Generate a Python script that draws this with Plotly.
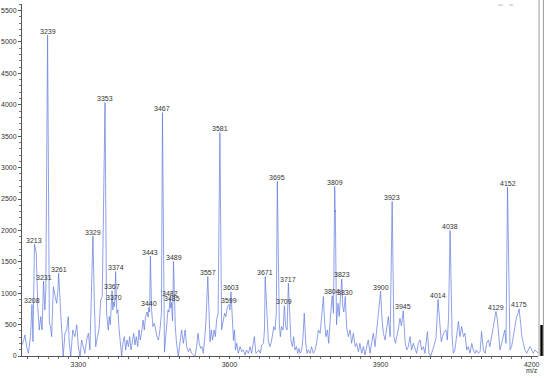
import plotly.graph_objects as go

# ---- spectrum trace (m/z, intensity) ----
mz = [3188, 3191, 3194, 3197.5, 3201, 3203, 3205, 3208, 3210, 3213, 3216.5, 3219.5, 3222.5, 3225.5,
      3228, 3231, 3233.5, 3235.5, 3239, 3242.5, 3245, 3247, 3250.5, 3254, 3257, 3259.5, 3261, 3265,
      3267.5, 3270, 3273.5, 3277, 3280, 3282, 3285, 3289, 3293, 3297, 3300, 3303.5, 3306.5, 3310,
      3313, 3316.5, 3320, 3323, 3326, 3329, 3332, 3334.5, 3338, 3341, 3344.5, 3347.5, 3353, 3356,
      3359.5, 3361.5, 3363.5, 3367, 3368.5, 3370, 3372, 3374, 3376.5, 3378.5, 3380.5, 3383.5, 3386,
      3388.5, 3391.5, 3394, 3396.5, 3399.5, 3402, 3404.5, 3407, 3410, 3412.5, 3415, 3418, 3420.5,
      3423, 3425.5, 3428.5, 3431, 3433.5, 3436.5, 3438.5, 3440, 3441.5, 3443, 3445.5, 3448, 3451,
      3453.5, 3456, 3459, 3462, 3465, 3467, 3471, 3475.5, 3478, 3480, 3482, 3483.5, 3485, 3487,
      3489, 3492.5, 3495, 3498.5, 3502, 3505, 3508.5, 3512, 3515, 3518.5, 3521.5, 3525, 3528.5,
      3531.5, 3535, 3537.5, 3540, 3543, 3545.5, 3548, 3551, 3553.5, 3557, 3559, 3561.5, 3564,
      3566.5, 3569.5, 3572, 3574.5, 3577.5, 3581, 3584.5, 3588, 3590.5, 3593, 3596, 3599, 3601,
      3603, 3605.5, 3608, 3610, 3612, 3614.5, 3617.5, 3621, 3624.5, 3627.5, 3631, 3634, 3637.5,
      3641, 3644, 3649.5, 3652.5, 3656, 3658.5, 3661.5, 3664, 3667.5, 3669.5, 3671, 3674.5, 3677,
      3680, 3682.5, 3685, 3688, 3690.5, 3693, 3695, 3699, 3701, 3703.5, 3706.5, 3709, 3711.5,
      3714.5, 3717, 3719.5, 3722, 3725, 3727.5, 3730, 3733, 3735.5, 3738, 3740.5, 3743.5, 3746,
      3748.5, 3751.5, 3754, 3756.5, 3760, 3763, 3766.5, 3770, 3773, 3776.5, 3780, 3783, 3786.5,
      3789, 3791.5, 3794.5, 3797, 3800, 3802.5, 3804, 3806.5, 3809, 3809.8, 3810.2, 3812.5, 3815.5,
      3818, 3820.5, 3823, 3825, 3827, 3830, 3832.5, 3836, 3839.5, 3842.5, 3846, 3849.5, 3852.5,
      3856, 3859, 3862.5, 3866, 3869, 3872.5, 3875.5, 3879, 3882.5, 3885.5, 3889, 3892.5, 3895.5,
      3900, 3902.5, 3905.5, 3909, 3912, 3915.5, 3919, 3923, 3926.5, 3929.5, 3932, 3935, 3938.5,
      3941.5, 3945, 3947, 3949, 3952, 3955, 3958.5, 3961.5, 3965, 3968.5, 3971.5, 3975, 3978.5,
      3981.5, 3985, 3988, 3993, 3996, 3999.5, 4003.5, 4006.5, 4010, 4014, 4018, 4020.5, 4023,
      4026.5, 4030, 4032.5, 4035, 4038, 4042, 4044.5, 4047.5, 4051, 4054.5, 4057.5, 4061, 4064.5,
      4067.5, 4071, 4074, 4077.5, 4081, 4084, 4087.5, 4090.5, 4094, 4097.5, 4100.5, 4104, 4107.5,
      4110.5, 4114, 4117, 4120.5, 4124, 4129, 4132, 4134.5, 4137, 4140.5, 4143.5, 4146.5, 4149,
      4152, 4157, 4160, 4163.5, 4167, 4170, 4173, 4175, 4178, 4180.5, 4183.5, 4186.5, 4190,
      4193.5, 4196.5, 4200, 4203, 4206.5, 4210, 4213]

intensity = [175, 229, 335, 149, 43, 149, 308, 820, 229, 1780, 1640, 787, 415, 628,
             415, 1190, 734, 1053, 5110, 521, 468, 308, 1106, 947, 840, 1053, 1320, 681,
             202, 0, 362, 415, 628, 202, 0, 415, 308, 495, 149, 0, 255, 149,
             43, 255, 362, 96, 893, 1910, 787, 149, 308, 415, 893, 947, 4035, 700,
             415, 628, 500, 1040, 734, 860, 787, 1345, 681, 734, 468, 202, 0,
             202, 308, 96, 255, 149, 308, 96, 202, 362, 176, 308, 149, 415,
             255, 362, 574, 415, 628, 700, 620, 770, 700, 1590, 734, 468, 521,
             415, 308, 255, 415, 681, 3875, 60, 574, 734, 700, 930, 760, 850, 560,
             1505, 468, 202, 0, 202, 415, 202, 415, 149, 69, 122, 43, 16,
             0, 149, 362, 202, 122, 149, 43, 282, 574, 1265, 628, 229, 415,
             255, 415, 308, 574, 681, 3560, 415, 574, 681, 628, 787, 820, 734,
             1020, 650, 250, 415, 96, 202, 43, 149, 69, 96, 16, 96, 40,
             149, 43, 308, 43, 69, 96, 43, 176, 202, 415, 1265, 628, 255,
             149, 202, 308, 468, 415, 681, 2780, 521, 308, 468, 415, 800, 468,
             415, 1160, 681, 255, 149, 308, 96, 149, 43, 122, 43, 96, 308,
             681, 202, 43, 96, 43, 149, 43, 96, 202, 415, 362, 628, 946,
             521, 308, 415, 202, 574, 787, 960, 681, 2700, 2290, 2320, 500, 840,
             628, 946, 1228, 787, 700, 950, 468, 308, 415, 202, 362, 149, 202,
             69, 202, 43, 149, 16, 176, 255, 43, 202, 362, 149, 415, 681,
             1030, 628, 362, 255, 468, 628, 308, 2460, 308, 202, 308, 415, 601,
             480, 720, 468, 202, 96, 149, 308, 96, 202, 96, 43, 202, 255,
             96, 149, 43, 388, 43, 0, 96, 202, 282, 900, 415, 229, 308,
             388, 415, 255, 628, 2000, 308, 43, 96, 335, 548, 308, 468, 308,
             362, 96, 149, 43, 202, 96, 43, 96, 43, 69, 388, 96, 43,
             202, 255, 149, 308, 521, 710, 574, 308, 96, 202, 308, 415, 202,
             2690, 96, 149, 308, 468, 628, 681, 750, 521, 308, 202, 96, 43,
             96, 149, 96, 43, 96, 69, 43]

# labelled peaks
peak_mz = [3208, 3213, 3231, 3239, 3261, 3329, 3353, 3367, 3370, 3374, 3440, 3443, 3467,
           3482, 3485, 3489, 3557, 3581, 3599, 3603, 3671, 3695, 3709, 3717, 3804, 3809,
           3823, 3830, 3900, 3923, 3945, 4014, 4038, 4129, 4152, 4175]

x_tickvals = [3200, 3300, 3400, 3500, 3600, 3700, 3800, 3900, 4000, 4100, 4200]
x_ticktext = ["", "3300", "", "", "3600", "", "", "3900", "", "", "4200"]
y_tickvals = [0, 500, 1000, 1500, 2000, 2500, 3000, 3500, 4000, 4500, 5000, 5500]

lookup = dict(zip(mz, intensity))

fig = go.Figure()
fig.add_trace(go.Scatter(x=mz, y=intensity, mode="lines",
                         line=dict(color="#5f78de", width=0.7),
                         hoverinfo="skip", showlegend=False))

FONT = "Liberation Sans, Arial, sans-serif"
annotations = []
for p in peak_mz:
    annotations.append(dict(x=p, y=lookup[p], xref="x", yref="y", text=str(p),
                            showarrow=False, yshift=4, yanchor="middle",
                            font=dict(size=7, color="#333333", family=FONT)))
annotations.append(dict(x=4200, y=0, xref="x", yref="paper", text="m/z", showarrow=False,
                        yshift=-14, yanchor="middle",
                        font=dict(size=7, color="#333333", family=FONT)))

shapes = [
    dict(type="line", xref="paper", yref="paper", x0=1.002, x1=1.002, y0=0, y1=1.012,
         line=dict(color="#9a9a9a", width=1)),
    dict(type="line", xref="paper", yref="paper", x0=1.0105, x1=1.0105, y0=0, y1=1.012,
         line=dict(color="#9a9a9a", width=1)),
    dict(type="rect", xref="paper", yref="paper", x0=1.0045, x1=1.0092, y0=0, y1=0.088,
         fillcolor="black", line=dict(width=0)),
    dict(type="line", xref="paper", yref="paper", x0=0.923, x1=0.932, y0=0.997, y1=0.997,
         line=dict(color="#b0b8e8", width=1)),
    dict(type="line", xref="paper", yref="paper", x0=0.944, x1=0.952, y0=0.997, y1=0.997,
         line=dict(color="#b0b8e8", width=1)),
]

fig.update_layout(
    width=550, height=378,
    margin=dict(l=22, r=12, t=4, b=22, autoexpand=False),
    paper_bgcolor="white", plot_bgcolor="white",
    annotations=annotations, shapes=shapes,
    xaxis=dict(range=[3188.2, 4212.5], showline=True, linecolor="#555555", linewidth=1,
               showgrid=False, zeroline=False, ticks="outside", ticklen=2, tickcolor="#555555",
               tickvals=x_tickvals, ticktext=x_ticktext, automargin=False,
               tickfont=dict(size=7, color="#333333", family=FONT),
               minor=dict(dtick=20, ticks="outside", ticklen=2, tickcolor="#777777")),
    yaxis=dict(range=[0, 5605], showline=True, linecolor="#555555", linewidth=1,
               showgrid=False, zeroline=False, ticks="outside", ticklen=3, tickcolor="#555555",
               tickvals=y_tickvals, ticktext=[str(v) for v in y_tickvals], automargin=False,
               tickfont=dict(size=7, color="#333333", family=FONT),
               minor=dict(dtick=100, ticks="outside", ticklen=2, tickcolor="#777777")),
)

fig.write_html("out.html", config={"displayModeBar": False},
               post_script="document.body.style.margin='0';document.body.style.overflow='hidden';")
